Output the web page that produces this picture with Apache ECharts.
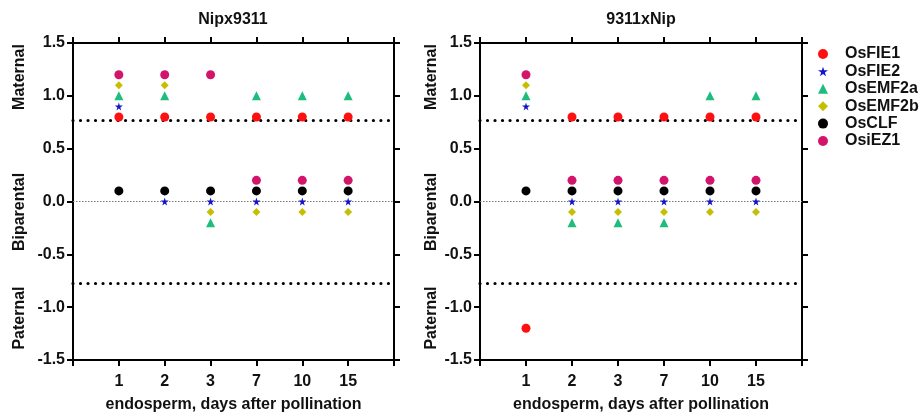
<!DOCTYPE html>
<html>
<head>
<meta charset="utf-8">
<script src="https://cdn.jsdelivr.net/npm/echarts@6/dist/echarts.min.js"></script>
<style>html,body{margin:0;padding:0;background:#fff;}#c{width:924px;height:418px;}</style>
</head>
<body>
<div id="c"></div>
<script>
const days = ['1', '2', '3', '7', '10', '15'];
const genes = ['OsFIE1', 'OsFIE2', 'OsEMF2a', 'OsEMF2b', 'OsCLF', 'OsiEZ1'];
const panelTitles = ['Nipx9311', '9311xNip'];
const yTicks = [-1.5, -1.0, -0.5, 0.0, 0.5, 1.0, 1.5];
const regionLabels = ['Maternal', 'Biparental', 'Paternal'];
const thresholds = [0.77, -0.77];
const baseline = [0];

// Nipx9311
const nip_OsFIE1  = [0.8, 0.8, 0.8, 0.8, 0.8, 0.8];
const nip_OsFIE2  = [0.9, 0.0, 0.0, 0.0, 0.0, 0.0];
const nip_OsEMF2a = [1.0, 1.0, -0.2, 1.0, 1.0, 1.0];
const nip_OsEMF2b = [1.1, 1.1, -0.1, -0.1, -0.1, -0.1];
const nip_OsCLF   = [0.1, 0.1, 0.1, 0.1, 0.1, 0.1];
const nip_OsiEZ1  = [1.2, 1.2, 1.2, 0.2, 0.2, 0.2];

// 9311xNip
const r_OsFIE1  = [-1.2, 0.8, 0.8, 0.8, 0.8, 0.8];
const r_OsFIE2  = [0.9, 0.0, 0.0, 0.0, 0.0, 0.0];
const r_OsEMF2a = [1.0, -0.2, -0.2, -0.2, 1.0, 1.0];
const r_OsEMF2b = [1.1, -0.1, -0.1, -0.1, -0.1, -0.1];
const r_OsCLF   = [0.1, 0.1, 0.1, 0.1, 0.1, 0.1];
const r_OsiEZ1  = [1.2, 0.2, 0.2, 0.2, 0.2, 0.2];

const panelData = [
  [nip_OsFIE1, nip_OsFIE2, nip_OsEMF2a, nip_OsEMF2b, nip_OsCLF, nip_OsiEZ1],
  [r_OsFIE1, r_OsFIE2, r_OsEMF2a, r_OsEMF2b, r_OsCLF, r_OsiEZ1]
];

const FONT = "'Liberation Sans', Arial, sans-serif";
const STAR = 'path://M50,0 L61,35 L98,35 L68,57 L79,91 L50,70 L21,91 L32,57 L2,35 L39,35 Z';
const DIAMOND = 'path://M0,-1 L1,0 L0,1 L-1,0 Z';
const styles = [
  {symbol: 'circle', size: 9, color: '#ff1010'},
  {symbol: STAR, size: 8, color: '#1414c8'},
  {symbol: 'triangle', size: 9, color: '#1dbd7d'},
  {symbol: DIAMOND, size: 8, color: '#c6bf00'},
  {symbol: 'circle', size: 9, color: '#000000'},
  {symbol: 'circle', size: 9, color: '#d2156a'}
];

const grids = [
  {left: 73, right: 530, top: 43, bottom: 54},
  {left: 480, right: 122, top: 43, bottom: 54}
];

const axisLine = {show: true, onZero: false, lineStyle: {color: '#000', width: 2}};
const axisTick = {show: true, length: 6, lineStyle: {color: '#000', width: 2}};
const labelFont = {color: '#111', fontWeight: 'bold', fontSize: 16, fontFamily: FONT};

const xAxes = [], yAxes = [], series = [];
grids.forEach((g, gi) => {
  xAxes.push({
    type: 'value', gridIndex: gi, position: 'bottom', min: 0, max: days.length + 1, interval: 1,
    axisLine, axisTick, splitLine: {show: false},
    axisLabel: Object.assign({margin: 14, formatter: v => (v >= 1 && v <= days.length) ? days[v - 1] : ''}, labelFont),
    name: 'endosperm, days after pollination', nameLocation: 'middle', nameGap: 37,
    nameTextStyle: {color: '#111', fontWeight: 'bold', fontSize: 16, fontFamily: FONT}
  });
  xAxes.push({
    type: 'value', gridIndex: gi, position: 'top', min: 0, max: days.length + 1, interval: 1,
    axisLine, axisTick, splitLine: {show: false}, axisLabel: {show: false}
  });
  yAxes.push({
    type: 'value', gridIndex: gi, position: 'left', min: -1.5, max: 1.5, interval: 0.5,
    axisLine, axisTick, splitLine: {show: false},
    axisLabel: Object.assign({margin: 8, formatter: v => v.toFixed(1)}, labelFont)
  });
  yAxes.push({
    type: 'value', gridIndex: gi, position: 'right', min: -1.5, max: 1.5, interval: 0.5,
    axisLine, axisTick, splitLine: {show: false}, axisLabel: {show: false}
  });
  genes.forEach((name, k) => {
    const s = {
      name, type: 'scatter', xAxisIndex: gi * 2, yAxisIndex: gi * 2,
      symbol: styles[k].symbol, symbolSize: styles[k].size,
      itemStyle: {color: styles[k].color, opacity: 1},
      data: panelData[gi][k].map((v, i) => [i + 1, v]),
      z: 5
    };
    if (k === 0) {
      s.markLine = {
        silent: true, symbol: 'none', label: {show: false}, animation: false,
        data: thresholds.map(t => ({yAxis: t, lineStyle: {color: '#000', width: 3.2, type: [0.01, 7.5], cap: 'round'}}))
          .concat(baseline.map(t => ({yAxis: t, lineStyle: {color: '#777', width: 1, type: [1.5, 1.5]}})))
      };
    }
    series.push(s);
  });
});

const graphics = [];
const labelY = [77, 212, 318];
[20, 432].forEach(x => {
  regionLabels.forEach((t, i) => {
    graphics.push({
      type: 'text', x: x, y: labelY[i], rotation: Math.PI / 2,
      style: {text: t, fill: '#111', font: 'bold 16px ' + FONT, align: 'center', verticalAlign: 'middle', textAlign: 'center', textVerticalAlign: 'middle'}
    });
  });
});

const option = {
  animation: false,
  backgroundColor: '#fff',
  title: panelTitles.map((t, i) => ({
    text: t, left: i === 0 ? 233 : 641, top: 12, padding: 0, textAlign: 'center',
    textStyle: {color: '#111', fontWeight: 'bold', fontSize: 16, fontFamily: FONT}
  })),
  legend: {
    orient: 'vertical', left: 818, top: 46, padding: 0, itemWidth: 10, itemHeight: 10, itemGap: 1.4,
    data: genes,
    textStyle: {color: '#111', fontWeight: 'bold', fontSize: 16, fontFamily: FONT, lineHeight: 16, padding: [0, 0, 0, 12]}
  },
  grid: grids,
  xAxis: xAxes,
  yAxis: yAxes,
  series,
  graphic: graphics
};

const chart = echarts.init(document.getElementById('c'), null, {renderer: 'canvas'});
chart.setOption(option);
</script>
</body>
</html>
